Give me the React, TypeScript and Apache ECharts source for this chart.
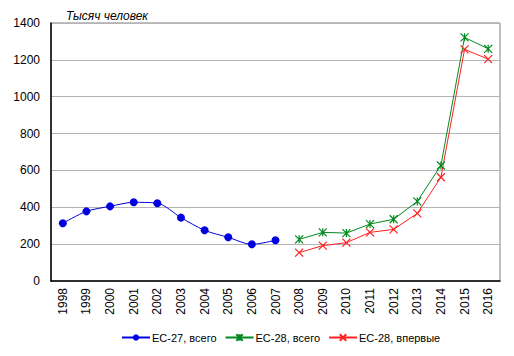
import React, { useEffect, useRef } from "react";
import * as echarts from "echarts";

const years = ["1998","1999","2000","2001","2002","2003","2004","2005","2006","2007","2008","2009","2010","2011","2012","2013","2014","2015","2016"];
const eu27Total = [313, 378, 405, 427, 422, 344, 275, 237, 199, 221, null, null, null, null, null, null, null, null, null];
const eu28Total = [null, null, null, null, null, null, null, null, null, null, 226, 264, 260, 309, 335, 432, 627, 1322, 1260];
const eu28First = [null, null, null, null, null, null, null, null, null, null, 154, 192, 208, 264, 280, 367, 563, 1257, 1204];
const yTicks = [0, 200, 400, 600, 800, 1000, 1200, 1400];
const seriesNames = ["ЕС-27, всего", "ЕС-28, всего", "ЕС-28, впервые"];

const STAR = "path://M0,0L10,10M10,0L0,10M5,0L5,10";
const CROSS = "path://M0,0L10,10M10,0L0,10";
const FONT = "Arial, 'Liberation Sans', sans-serif";

export default function App() {
  const ref = useRef<HTMLDivElement>(null);
  useEffect(() => {
    document.body.style.margin = "0";
    const chart = echarts.init(ref.current!, null, { renderer: "svg" });
    chart.setOption({
      animation: false,
      backgroundColor: "#ffffff",
      textStyle: { fontFamily: FONT },
      title: {
        text: "Тысяч человек",
        left: 61,
        top: 5,
        textStyle: { fontSize: 12, fontStyle: "italic", fontWeight: "normal", color: "#000", fontFamily: FONT },
      },
      grid: { left: 51, right: 14, top: 23, bottom: 75, show: true, borderColor: "#808080", borderWidth: 1 },
      legend: {
        bottom: 8,
        left: 116,
        itemWidth: 28,
        itemHeight: 8,
        itemGap: 8,
        textStyle: { fontSize: 11, color: "#000", fontFamily: FONT, padding: [0, 0, 0, -3] },
        data: seriesNames,
      },
      xAxis: {
        type: "category",
        data: years,
        boundaryGap: true,
        axisLine: { lineStyle: { color: "#000", width: 1.5 } },
        axisTick: { show: false },
        axisLabel: { rotate: 90, fontSize: 12, color: "#000", margin: 7, interval: 0 },
      },
      yAxis: {
        type: "value",
        min: yTicks[0],
        max: yTicks[yTicks.length - 1],
        interval: 200,
        axisLine: { show: true, lineStyle: { color: "#000", width: 1.5 } },
        axisTick: { show: false },
        axisLabel: { fontSize: 12, color: "#000", margin: 11, formatter: (v: number) => String(v) },
        splitLine: { lineStyle: { color: "#b4b4b4", width: 1 } },
      },
      series: [
        {
          name: seriesNames[0],
          type: "line",
          data: eu27Total,
          smooth: 0.3,
          symbol: "circle",
          symbolSize: 8,
          color: "#0000e0",
          lineStyle: { width: 1, color: "#0000e0" },
          itemStyle: { color: "#0000e0" },
        },
        {
          name: seriesNames[1],
          type: "line",
          data: eu28Total,
          symbol: STAR,
          symbolSize: 8,
          color: "#008a1e",
          lineStyle: { width: 1, color: "#008a1e" },
          itemStyle: { color: "#008a1e", borderColor: "#008a1e", borderWidth: 1.2 },
        },
        {
          name: seriesNames[2],
          type: "line",
          data: eu28First,
          symbol: CROSS,
          symbolSize: 8,
          color: "#ff2020",
          lineStyle: { width: 1, color: "#ff2020" },
          itemStyle: { color: "#ff2020", borderColor: "#ff2020", borderWidth: 1.2 },
        },
      ],
    });
    return () => chart.dispose();
  }, []);
  return <div ref={ref} style={{ width: 514, height: 356 }} />;
}
